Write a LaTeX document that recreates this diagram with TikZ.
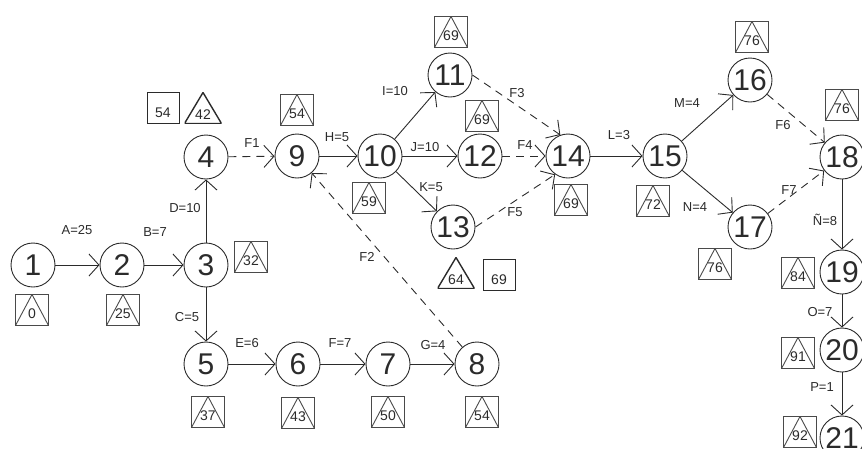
\documentclass[tikz,border=0pt]{standalone}
\usepackage{fontspec}
\setmainfont{Liberation Sans}
\usetikzlibrary{arrows.meta}
\definecolor{ink}{HTML}{2B2B2B}
\definecolor{boxc}{HTML}{4A4A4A}
\tikzset{
  ev/.style={circle, draw=ink, line width=0.9pt, minimum size=44pt, inner sep=0pt,
    text=ink, font=\fontsize{30}{30}\selectfont},
  act/.style={draw=ink, line width=0.9pt,
    -{Straight Barb[length=10pt,width=22pt,line width=0.9pt]}},
  dum/.style={act, dash pattern=on 8pt off 6pt},
  lbl/.style={font=\fontsize{13}{13}\selectfont, inner sep=0pt, text=ink},
  num/.style={inner sep=0pt, text=ink, font=\fontsize{14}{14}\selectfont},
  tribox/.style={num, draw=boxc, line width=0.9pt, minimum width=33pt, minimum height=31pt,
    text height=16pt, text depth=0pt,
    path picture={\draw[boxc, line width=0.9pt] (path picture bounding box.south west)
      -- (path picture bounding box.north) -- (path picture bounding box.south east);}},
  plainbox/.style={num, draw=ink, line width=0.9pt, minimum width=32pt, minimum height=31pt,
    text height=19pt, text depth=0pt},
  tri/.style={num, minimum width=37pt, minimum height=31pt, text height=23pt, text depth=0pt,
    path picture={\draw[ink, line width=1.4pt] (path picture bounding box.south west)
      -- (path picture bounding box.north) -- (path picture bounding box.south east) -- cycle;}},
}
\begin{document}
\begin{tikzpicture}[x=1pt, y=-1pt]
\useasboundingbox (0,0) rectangle (862,448);
\clip (0,0) rectangle (862,448);

% events
\node[ev] (n1)  at (33,265)  {1};
\node[ev] (n2)  at (122,265) {2};
\node[ev] (n3)  at (206,265) {3};
\node[ev] (n4)  at (206,157) {4};
\node[ev] (n5)  at (206,364) {5};
\node[ev] (n6)  at (298,364) {6};
\node[ev] (n7)  at (388,364) {7};
\node[ev] (n8)  at (477,364) {8};
\node[ev] (n9)  at (297,156) {9};
\node[ev] (n10) at (380,156) {10};
\node[ev] (n11) at (450,75)  {11};
\node[ev] (n12) at (480,156) {12};
\node[ev] (n13) at (453,227) {13};
\node[ev] (n14) at (568,156) {14};
\node[ev] (n15) at (665,156) {15};
\node[ev] (n16) at (750,80)  {16};
\node[ev] (n17) at (750,227) {17};
\node[ev] (n18) at (842,157) {18};
\node[ev] (n19) at (842,272) {19};
\node[ev] (n20) at (842,350) {20};
\node[ev] (n21) at (842,438) {21};

% earliest times
\node[tribox] (t1)  at (32,310)  {0};
\node[tribox] (t2)  at (123,310) {25};
\node[tribox] (t3)  at (251,257) {32};
\node[plainbox] (s4) at (163,108) {54};
\node[tri] (t4)     at (203,108) {42};
\node[tribox] (t5)  at (208,412) {37};
\node[tribox] (t6)  at (298,413) {43};
\node[tribox] (t7)  at (388,412) {50};
\node[tribox] (t8)  at (482,412) {54};
\node[tribox] (t9)  at (297,110) {54};
\node[tribox] (t10) at (369,198) {59};
\node[tribox] (t11) at (451,32)  {69};
\node[tribox] (t12) at (482,116) {69};
\node[tri] (t13)    at (456,273) {64};
\node[plainbox] (s13) at (499,275) {69};
\node[tribox] (t14) at (571,200) {69};
\node[tribox] (t15) at (653,201) {72};
\node[tribox] (t16) at (752,37)  {76};
\node[tribox] (t17) at (715,264) {76};
\node[tribox] (t18) at (842,105) {76};
\node[tribox] (t19) at (798,273) {84};
\node[tribox] (t20) at (798,353) {91};
\node[tribox] (t21) at (800,432) {92};

% activities
\draw[act] (n1) -- (n2);
\draw[act] (n2) -- (n3);
\draw[act] (n3) -- (n4);
\draw[act] (n3) -- (n5);
\draw[act] (n5) -- (n6);
\draw[act] (n6) -- (n7);
\draw[act] (n7) -- (n8);
\draw[act] (n9) -- (n10);
\draw[act] (n10) -- (n11);
\draw[act] (n10) -- (n12);
\draw[act] (n10) -- (n13);
\draw[act] (n14) -- (n15);
\draw[act] (n15) -- (n16);
\draw[act] (n15) -- (n17);
\draw[act] (n18) -- (n19);
\draw[act] (n19) -- (n20);
\draw[act] (n20) -- (n21);

% dummy activities
\draw[dum] (n4) -- (n9);
\draw[dum] (n8) -- (n9);
\draw[dum] (n11.east) -- (n14.110);
\draw[dum] (n12) -- (n14);
\draw[dum] (n13.east) -- (n14.235);
\draw[dum] (n16) -- (n18);
\draw[dum] (n17) -- (n18);

% activity labels
\node[lbl] (lA)  at (77,230)  {A=25};
\node[lbl] (lB)  at (155,232) {B=7};
\node[lbl] (lD)  at (185,208) {D=10};
\node[lbl] (lC)  at (187,317) {C=5};
\node[lbl] (lE)  at (247,343) {E=6};
\node[lbl] (lF)  at (340,343) {F=7};
\node[lbl] (lG)  at (433,345) {G=4};
\node[lbl] (lF1) at (252,143) {F1};
\node[lbl] (lH)  at (337,137) {H=5};
\node[lbl] (lF2) at (367,257) {F2};
\node[lbl] (lI)  at (395,91)  {I=10};
\node[lbl] (lJ)  at (425,147) {J=10};
\node[lbl] (lK)  at (431,187) {K=5};
\node[lbl] (lF3) at (517,93)  {F3};
\node[lbl] (lF4) at (525,145) {F4};
\node[lbl] (lF5) at (515,212) {F5};
\node[lbl] (lL)  at (619,135) {L=3};
\node[lbl] (lM)  at (687,103) {M=4};
\node[lbl] (lN)  at (695,207) {N=4};
\node[lbl] (lF6) at (783,125) {F6};
\node[lbl] (lF7) at (789,190) {F7};
\node[lbl] (lNn) at (825,220) {Ñ=8};
\node[lbl] (lO)  at (820,312) {O=7};
\node[lbl] (lP)  at (822,387) {P=1};
\end{tikzpicture}
\end{document}
